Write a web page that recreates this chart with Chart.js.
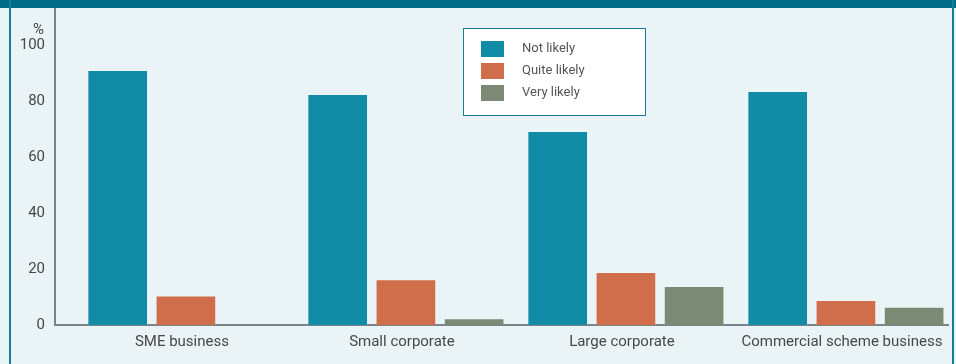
<!DOCTYPE html>
<html>
<head>
<meta charset="utf-8">
<script src="https://cdn.jsdelivr.net/npm/chart.js@4/dist/chart.umd.min.js"></script>
<style>
  html, body { margin: 0; padding: 0; background: #eaf3f6; }
  .wrap { position: relative; width: 956px; height: 364px; overflow: hidden; }
  canvas { position: absolute; left: 0; top: 0; }
  .band { position: absolute; left: 0; top: 0; width: 956px; height: 8px; background: #006c88; }
  .side { position: absolute; top: 0; width: 2px; height: 364px; background: #1a7d98; }
</style>
</head>
<body>
<div class="wrap">
  <canvas id="chart" width="956" height="364"></canvas>
  <div class="band"></div>
  <div class="side" style="left:9px"></div>
  <div class="side" style="left:952px"></div>
</div>
<script>
const categories = ['SME business', 'Small corporate', 'Large corporate', 'Commercial scheme business'];
const seriesNames = ['Not likely', 'Quite likely', 'Very likely'];
const notLikely = [91.1, 82.5, 69.3, 83.6];
const quiteLikely = [10.5, 16.3, 18.9, 8.9];
const veryLikely = [0, 2.4, 13.9, 6.5];
const yTicks = [0, 20, 40, 60, 80, 100];

const colors = ['#128ca6', '#d06d4a', '#7c8a75'];
const textColor = '#484848';
const font = { family: 'Roboto', size: 15 };

const toPoints = (arr) => arr.map((v, i) => ({ x: i, y: v }));

// legend box + "%" label drawn on the canvas
const extras = {
  id: 'extras',
  afterDraw(chart) {
    const ctx = chart.ctx;
    ctx.save();
    ctx.fillStyle = textColor;
    ctx.font = '15px Roboto';
    ctx.textAlign = 'right';
    ctx.textBaseline = 'middle';
    ctx.fillText('%', 44, 30);

    ctx.fillStyle = '#fff';
    ctx.fillRect(463, 28, 182, 87);
    ctx.strokeStyle = '#1a7d98';
    ctx.lineWidth = 1;
    ctx.strokeRect(463.5, 28.5, 182, 87);
    ctx.textAlign = 'left';
    ctx.font = '13px Roboto';
    chart.data.datasets.forEach((ds, i) => {
      const y = 41 + i * 22;
      ctx.fillStyle = ds.backgroundColor;
      ctx.fillRect(481, y, 23, 16);
      ctx.fillStyle = '#555';
      ctx.fillText(ds.label, 522, y + 8);
    });
    ctx.restore();
  }
};

new Chart(document.getElementById('chart'), {
  type: 'bar',
  data: {
    datasets: [
      { label: seriesNames[0], data: toPoints(notLikely), backgroundColor: colors[0] },
      { label: seriesNames[1], data: toPoints(quiteLikely), backgroundColor: colors[1] },
      { label: seriesNames[2], data: toPoints(veryLikely), backgroundColor: colors[2] },
    ].map((d) => ({ ...d, borderColor: 'rgba(255,255,255,0.25)', borderWidth: 1, categoryPercentage: 0.93, barPercentage: 0.89 })),
  },
  options: {
    responsive: false,
    animation: false,
    layout: { padding: { left: 0, right: 8, top: 8, bottom: 0 } },
    plugins: { legend: { display: false }, tooltip: { enabled: false } },
    scales: {
      x: {
        type: 'linear',
        offset: false,
        min: -0.595,
        max: 3.464,
        grid: { display: false, drawTicks: false },
        border: { display: true, color: '#78848a', width: 2 },
        afterBuildTicks: (scale) => { scale.ticks = categories.map((c, i) => ({ value: i })); },
        afterFit: (scale) => { scale.height = 39; scale.paddingLeft = 0; scale.paddingRight = 0; },
        ticks: { color: textColor, font, padding: 8, labelOffset: -4, maxRotation: 0, autoSkip: false, callback: (v) => categories[v] },
      },
      y: {
        min: 0,
        max: 113.2,
        grid: { display: false, drawTicks: false },
        border: { display: true, color: '#78848a', width: 2 },
        afterBuildTicks: (scale) => { scale.ticks = yTicks.map((v) => ({ value: v })); },
        afterFit: (scale) => { scale.width = 55; scale.paddingTop = 0; scale.paddingBottom = 0; },
        ticks: { color: textColor, font, padding: 10 },
      },
    },
  },
  plugins: [extras],
});
</script>
</body>
</html>
